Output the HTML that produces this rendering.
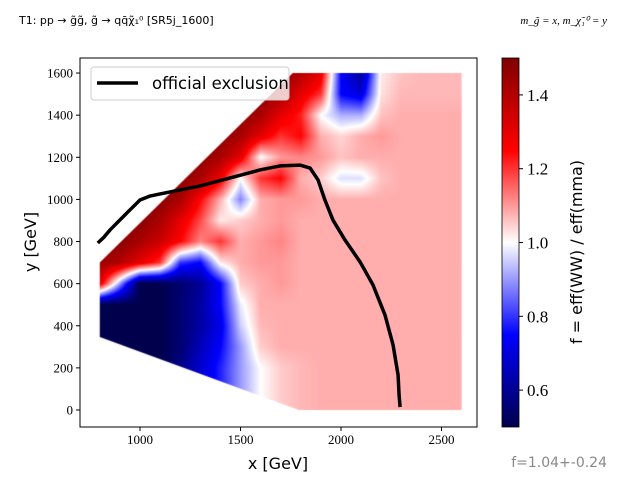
<!DOCTYPE html>
<html><head><meta charset="utf-8"><style>
body{margin:0;background:#fff;}
#wrap{position:relative;width:640px;height:480px;overflow:hidden;font-family:"Liberation Serif",serif;}
canvas,svg{position:absolute;left:0;top:0;}
</style></head><body>
<div id="wrap">
<canvas id="hm" width="640" height="480"></canvas>
<svg id="sv" width="640" height="480"></svg>
</div>
<script>
const xCats=[800,900,1000,1100,1200,1300,1400,1500,1600,1700,1800,1900,2000,2100,2200,2300,2400,2500,2600];
const yCats=[1600,1500,1400,1300,1200,1100,1000,900,800,700,600,500,400,300,200,100,0];
const ratioGrid=[
[1.48,1.48,1.48,1.48,1.48,1.48,1.48,1.48,1.48,1.48,1.4,1.3,0.75,0.6,1.02,1.06,1.07,1.07,1.07],
[1.48,1.48,1.48,1.48,1.48,1.48,1.48,1.48,1.48,1.42,1.3,1.2,0.75,0.7,1.03,1.07,1.07,1.07,1.07],
[1.48,1.48,1.48,1.48,1.48,1.48,1.48,1.48,1.42,1.3,1.22,1.0,0.92,0.92,1.06,1.08,1.08,1.08,1.08],
[1.48,1.48,1.48,1.48,1.48,1.48,1.48,1.42,1.3,1.2,1.25,1.08,1.04,1.08,1.1,1.08,1.08,1.08,1.08],
[1.48,1.48,1.48,1.48,1.48,1.48,1.42,1.3,1.0,1.1,1.12,1.1,1.06,1.08,1.08,1.08,1.08,1.08,1.08],
[1.48,1.48,1.48,1.48,1.48,1.42,1.28,1.0,1.2,1.25,1.08,1.05,0.97,0.97,1.06,1.08,1.08,1.08,1.08],
[1.48,1.48,1.48,1.48,1.42,1.25,1.08,0.88,1.08,1.1,1.1,1.08,1.08,1.08,1.08,1.08,1.08,1.08,1.08],
[1.48,1.48,1.48,1.42,1.3,1.18,1.02,1.05,1.08,1.1,1.08,1.08,1.08,1.08,1.08,1.08,1.08,1.08,1.08],
[1.48,1.48,1.42,1.35,1.25,1.12,1.2,1.08,1.1,1.12,1.08,1.08,1.08,1.08,1.08,1.08,1.08,1.08,1.08],
[1.45,1.4,1.3,1.2,0.8,0.75,1.02,1.08,1.1,1.1,1.08,1.08,1.08,1.08,1.08,1.08,1.08,1.08,1.08],
[1.3,0.9,0.5,0.5,0.55,0.6,0.75,1.05,1.08,1.1,1.08,1.08,1.08,1.08,1.08,1.08,1.08,1.08,1.08],
[0.5,0.5,0.5,0.5,0.55,0.62,0.75,0.98,1.08,1.08,1.08,1.08,1.08,1.08,1.08,1.08,1.08,1.08,1.08],
[0.5,0.5,0.5,0.5,0.55,0.62,0.72,0.95,1.07,1.08,1.08,1.08,1.08,1.08,1.08,1.08,1.08,1.08,1.08],
[0.5,0.5,0.5,0.5,0.55,0.65,0.75,0.9,1.05,1.08,1.08,1.08,1.08,1.08,1.08,1.08,1.08,1.08,1.08],
[0.5,0.5,0.5,0.5,0.58,0.68,0.78,0.9,1.0,1.05,1.07,1.08,1.08,1.08,1.08,1.08,1.08,1.08,1.08],
[0.5,0.5,0.5,0.5,0.58,0.68,0.78,0.9,1.0,1.05,1.07,1.08,1.08,1.08,1.08,1.08,1.08,1.08,1.08],
[0.5,0.5,0.5,0.5,0.58,0.68,0.78,0.9,1.0,1.05,1.07,1.08,1.08,1.08,1.08,1.08,1.08,1.08,1.08]];
const exclX=[790,820,851,900,950,1000,1050,1100,1199,1299,1448,1597,1697,1796,1846,1886,1920,1960,2020,2095,2159,2219,2259,2284,2289,2294];
const exclY=[793,820,855,902,950,997,1016,1026,1045,1064,1102,1140,1159,1163,1149,1092,997,902,807,703,594,451,309,166,71,14];
const regionX=[800,1760,2600,2600,1790,800];
const regionY=[700,1600,1600,0,0,347];
const xTicks=[1000,1500,2000,2500];
const yTicks=[0,200,400,600,800,1000,1200,1400,1600];
const cbTicks=[0.6,0.8,1.0,1.2,1.4];

const PL=80,PR=477,PT=58,PB=427;
function sx(x){return 140+(x-1000)*0.201;}
function sy(y){return 410-y*0.2106;}
function ix(px){return (px-140)/0.201+1000;}
function iy(py){return (410-py)/0.2106;}
const cbTop=58,cbBot=427,cbMin=0.5,cbMax=1.5;
function cy(v){return cbBot-(v-cbMin)/(cbMax-cbMin)*(cbBot-cbTop);}
function seismic(v){
  let t=Math.max(0,Math.min(1,(v-cbMin)/(cbMax-cbMin)));
  let r,g,b;
  if(t<0.25){let u=t/0.25;r=0;g=0;b=0.3+0.7*u;}
  else if(t<0.5){let u=(t-0.25)/0.25;r=u;g=u;b=1;}
  else if(t<0.75){let u=(t-0.5)/0.25;r=1;g=1-u;b=1-u;}
  else{let u=(t-0.75)/0.25;r=1-0.5*u;g=0;b=0;}
  return [r*255,g*255,b*255];
}
function val(x,y){
  let fx=(x-xCats[0])/100, fy=(yCats[0]-y)/100;
  fx=Math.max(0,Math.min(xCats.length-1.0001,fx));
  fy=Math.max(0,Math.min(yCats.length-1.0001,fy));
  const i=Math.floor(fx),j=Math.floor(fy),a=fx-i,b=fy-j;
  const g=ratioGrid;
  return (g[j][i]*(1-a)+g[j][i+1]*a)*(1-b)+(g[j+1][i]*(1-a)+g[j+1][i+1]*a)*b;
}
const cv=document.getElementById('hm'),ctx=cv.getContext('2d');
const img=ctx.createImageData(640,480);
for(let py=PT;py<PB;py++)for(let px=PL;px<PR;px++){
  const c=seismic(val(ix(px+0.5),iy(py+0.5)));const k=(py*640+px)*4;
  img.data[k]=c[0];img.data[k+1]=c[1];img.data[k+2]=c[2];img.data[k+3]=255;}
const tmp=document.createElement('canvas');tmp.width=640;tmp.height=480;
tmp.getContext('2d').putImageData(img,0,0);
ctx.save();ctx.beginPath();
regionX.forEach((x,i)=>{i?ctx.lineTo(sx(x),sy(regionY[i])):ctx.moveTo(sx(x),sy(regionY[i]));});
ctx.closePath();ctx.clip();ctx.drawImage(tmp,0,0);ctx.restore();

const NS='http://www.w3.org/2000/svg',sv=document.getElementById('sv');
function mk(t,at,txt){const e=document.createElementNS(NS,t);for(const k in at)e.setAttribute(k,at[k]);if(txt!=null)e.textContent=txt;sv.appendChild(e);return e;}
let e;
e=mk('rect',{x:PL,y:PT,width:PR-PL,height:PB-PT,fill:'none',stroke:'#000','stroke-width':1});


xTicks.forEach(v=>{
  e=mk('line',{x1:sx(v),x2:sx(v),y1:PB,y2:PB+4,stroke:'#000'});
  
  
  e=mk('text',{x:sx(v),y:PB+17,'text-anchor':'middle','font-size':13},v);
  
  
});
yTicks.forEach(v=>{
  e=mk('line',{x1:PL-4,x2:PL,y1:sy(v),y2:sy(v),stroke:'#000'});
  
  
  e=mk('text',{x:PL-7,y:sy(v)+4.5,'text-anchor':'end','font-size':13},v);
  
  
});
const pts=exclX.map((x,i)=>sx(x)+','+sy(exclY[i])).join(' ');
e=mk('polyline',{points:pts,fill:'none',stroke:'#000','stroke-width':3.5,'stroke-linejoin':'round','stroke-linecap':'butt'});


e=mk('rect',{x:91,y:67,width:198,height:33,rx:3,fill:'#fff','fill-opacity':0.8,stroke:'#ccc'});


e=mk('line',{x1:97,x2:138,y1:83,y2:83,stroke:'#000','stroke-width':3.5});


e=mk('text',{x:152,y:89,'font-size':16.5,'font-family':'DejaVu Sans, sans-serif'},'official exclusion');


e=mk('text',{x:278,y:469,'text-anchor':'middle','font-size':16,'font-family':'DejaVu Sans, sans-serif'},'x [GeV]');


e=mk('text',{x:0,y:0,'text-anchor':'middle','font-size':16,'font-family':'DejaVu Sans, sans-serif',transform:'translate(36,242) rotate(-90)'},'y [GeV]');


const defs=mk('defs',{});
const lg=document.createElementNS(NS,'linearGradient');lg.setAttribute('id','cbg');lg.setAttribute('x1',0);lg.setAttribute('x2',0);lg.setAttribute('y1',1);lg.setAttribute('y2',0);
for(let i=0;i<=20;i++){const c=seismic(cbMin+i/20*(cbMax-cbMin));const s=document.createElementNS(NS,'stop');s.setAttribute('offset',i/20);s.setAttribute('stop-color',`rgb(${c.map(Math.round).join(',')})`);lg.appendChild(s);}
defs.appendChild(lg);
e=mk('rect',{x:502,y:cbTop,width:17,height:cbBot-cbTop,fill:'url(#cbg)',stroke:'#000','stroke-width':0.8});


cbTicks.forEach(v=>{
  e=mk('line',{x1:519,x2:523,y1:cy(v),y2:cy(v),stroke:'#000'});
  
  
  e=mk('text',{x:527,y:cy(v)+6,'font-size':17},v.toFixed(1));
  
  
});
e=mk('text',{x:0,y:0,'text-anchor':'middle','font-size':16,'font-family':'DejaVu Sans, sans-serif',transform:'translate(582,252) rotate(-90)'},'f = eff(WW) / eff(mma)');


e=mk('text',{x:19,y:24,'font-size':11,'font-family':'DejaVu Sans, sans-serif'},'T1: pp → g̃g̃, g̃ → qq̄χ̃₁⁰ [SR5j_1600]');


e=mk('text',{x:607,y:24,'text-anchor':'end','font-size':11,'font-style':'italic'},'m_g̃ = x, m_χ̃₁⁰ = y');


e=mk('text',{x:607,y:467,'text-anchor':'end','font-size':14,fill:'#888','font-family':'DejaVu Sans, sans-serif'},'f=1.04+-0.24');


</script>
</body></html>
